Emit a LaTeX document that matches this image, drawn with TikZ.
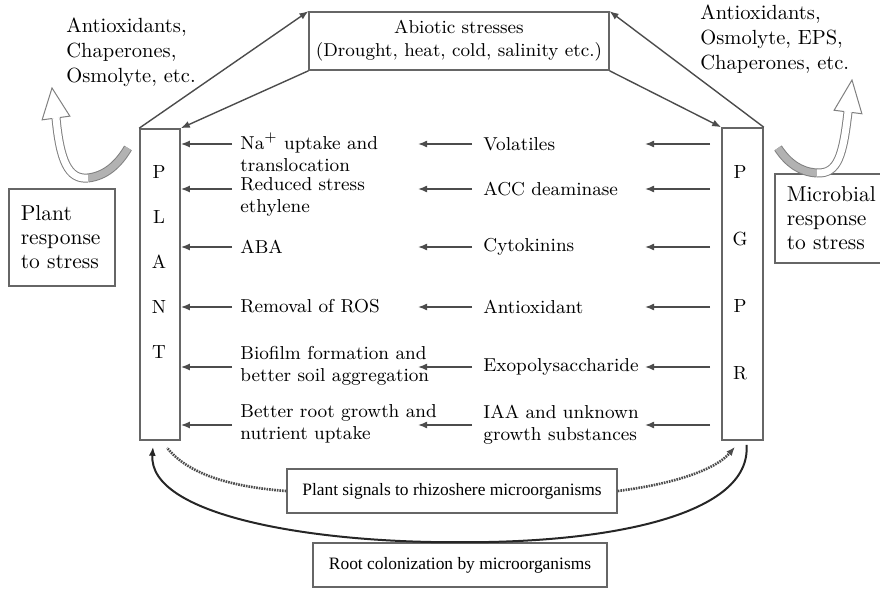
\documentclass[tikz,border=0pt]{standalone}
\usepackage{fontspec}
\newfontfamily\timesfont{Liberation Serif}
\usetikzlibrary{arrows.meta,calc}

\begin{document}
\begin{tikzpicture}[
  x=0.5pt, y=-0.5pt,
  font=\fontsize{9.35}{11}\selectfont,
  box/.style={draw=black!60, line width=0.8pt},
  lbl/.style={anchor=west, inner sep=0pt, align=left},
  side/.style={box, anchor=north west, align=left, text width=41pt, inner xsep=6pt, font=\fontsize{10.75}{12}\selectfont},
  note/.style={anchor=north west, inner sep=0pt, align=left, font=\fontsize{10.25}{12.6}\selectfont},
  arrow/.style={-{Latex[length=4.5pt,width=3.5pt]}, draw=black!70, line width=0.8pt},
  signal/.style={draw=black!70, line width=1.3pt, dash pattern=on 0.8pt off 0.5pt},
  hollow/.style={draw=black!50, line width=0.5pt, double=white, double distance=3.5pt},
  hollowhead/.style={draw=black!50, line width=0.5pt, fill=white}
]
\useasboundingbox (0,0) rectangle (880,589);

% the two columns
\node[box, minimum width=20pt, minimum height=155.5pt] (plant) at (160,284.5) {};
\node[font=\fontsize{9.5}{22.5}\selectfont, align=center] (plantname) at (159,262) {P\\L\\A\\N\\T};
\node[box, minimum width=20.5pt, minimum height=156pt] (pgpr) at (742.5,284) {};
\node[font=\fontsize{9.5}{33.5}\selectfont, align=center] (pgprname) at (740,272.5) {P\\G\\P\\R};

\node[box, minimum width=147pt, minimum height=29pt, align=center, font=\fontsize{9.3}{11.5}\selectfont] (abiotic) at (459,41) {Abiotic stresses\\(Drought, heat, cold, salinity etc.)};

\draw[arrow, line width=0.7pt] (plant.north west) -- (abiotic.north west);
\draw[arrow, line width=0.7pt] (abiotic.south west) -- (plant.north east);
\draw[arrow, line width=0.7pt] (pgpr.north east) -- (abiotic.north east);
\draw[arrow, line width=0.7pt] (abiotic.south east) -- (pgpr.north west);

% plant side effects
\node[lbl] (l1) at (240,152) {Na$^+$ uptake and\\translocation};
\node[lbl] (l2) at (240,197) {Reduced stress\\ethylene};
\node[lbl] (l3) at (240,247) {ABA};
\node[lbl] (l4) at (240,306) {Removal of ROS};
\node[lbl] (l5) at (240,366) {Biofilm formation and\\better soil aggregation};
\node[lbl] (l6) at (240,424) {Better root growth and\\nutrient uptake};

% microbial products
\node[lbl] (m1) at (483,144) {Volatiles};
\node[lbl] (m2) at (483,189) {ACC deaminase};
\node[lbl] (m3) at (483,247) {Cytokinins};
\node[lbl] (m4) at (483,307) {Antioxidant};
\node[lbl] (m5) at (483,367) {Exopolysaccharide};
\node[lbl] (m6) at (483,425) {IAA and unknown\\growth substances};

\coordinate (tailL) at (232,0);
\coordinate (headM) at (418,0);
\coordinate (tailM) at (472,0);
\coordinate (headR) at (645,0);
\coordinate (tailR) at (710,0);

\foreach \i in {1,...,6}{
  \draw[arrow] (tailR |- m\i.west) -- (headR |- m\i.west);
  \draw[arrow] (tailM |- m\i.west) -- (headM |- m\i.west);
  \draw[arrow] (tailL |- m\i.west) -- (plant.east |- m\i.west);
}

% responses to stress
\node[side, minimum height=48.5pt] (plantresp) at (8,188) {Plant\\response\\to stress};
\node[side, minimum height=44.5pt] (microresp) at (774,173) {Microbial\\response\\to stress};
\node[note] (plantnote) at (66,17.5) {Antioxidants,\\Chaperones,\\Osmolyte, etc.};
\node[note] (micronote) at (700,4.5) {Antioxidants,\\Osmolyte, EPS,\\Chaperones, etc.};

% hollow curved arrows
\coordinate (lbase) at (56,118);
\coordinate (ltip) at (52,88);
\draw[hollow, double=black!30] (128,148) .. controls (118,165) and (105,176) .. (88,178);
\draw[hollow] (88,178) .. controls (68,180) and (60,160) .. (lbase);
\draw[hollowhead] ($(lbase)!2pt!90:(ltip)$) -- ($(lbase)!7pt!90:(ltip)$) -- (ltip) -- ($(lbase)!7pt!-90:(ltip)$) -- ($(lbase)!2pt!-90:(ltip)$);

\coordinate (rbase) at (848,112);
\coordinate (rtip) at (852,80);
\draw[hollow, double=black!30] (778,148) .. controls (788,163) and (800,172) .. (817,173);
\draw[hollow] (817,173) .. controls (838,174) and (843,155) .. (rbase);
\draw[hollowhead] ($(rbase)!2pt!90:(rtip)$) -- ($(rbase)!7pt!90:(rtip)$) -- (rtip) -- ($(rbase)!7pt!-90:(rtip)$) -- ($(rbase)!2pt!-90:(rtip)$);

% root zone
\node[box, font=\timesfont\fontsize{8.7}{10}\selectfont, minimum width=165pt, minimum height=22pt] (signals) at (452,491) {Plant signals to rhizoshere microorganisms};
\node[box, font=\timesfont\fontsize{8.7}{10}\selectfont, minimum width=147pt, minimum height=22pt] (root) at (460,565) {Root colonization by microorganisms};

\draw[signal] (signals.west) .. controls (220,486) and (185,470) .. ([xshift=3.5pt,yshift=-3.5pt]plant.south);
\draw[signal, -{Latex[length=4.5pt,width=3.5pt]}] (signals.east) .. controls (680,483) and (717,468) .. ([xshift=-3.75pt,yshift=-3pt]pgpr.south);
\draw[arrow, draw=black!85, line width=1pt] ([xshift=2pt,yshift=-2pt]pgpr.south) .. controls (752,515) and (610,543) .. (root.north) .. controls (310,543) and (148,515) .. ([xshift=-3.5pt,yshift=-3pt]plant.south);

\end{tikzpicture}
\end{document}
